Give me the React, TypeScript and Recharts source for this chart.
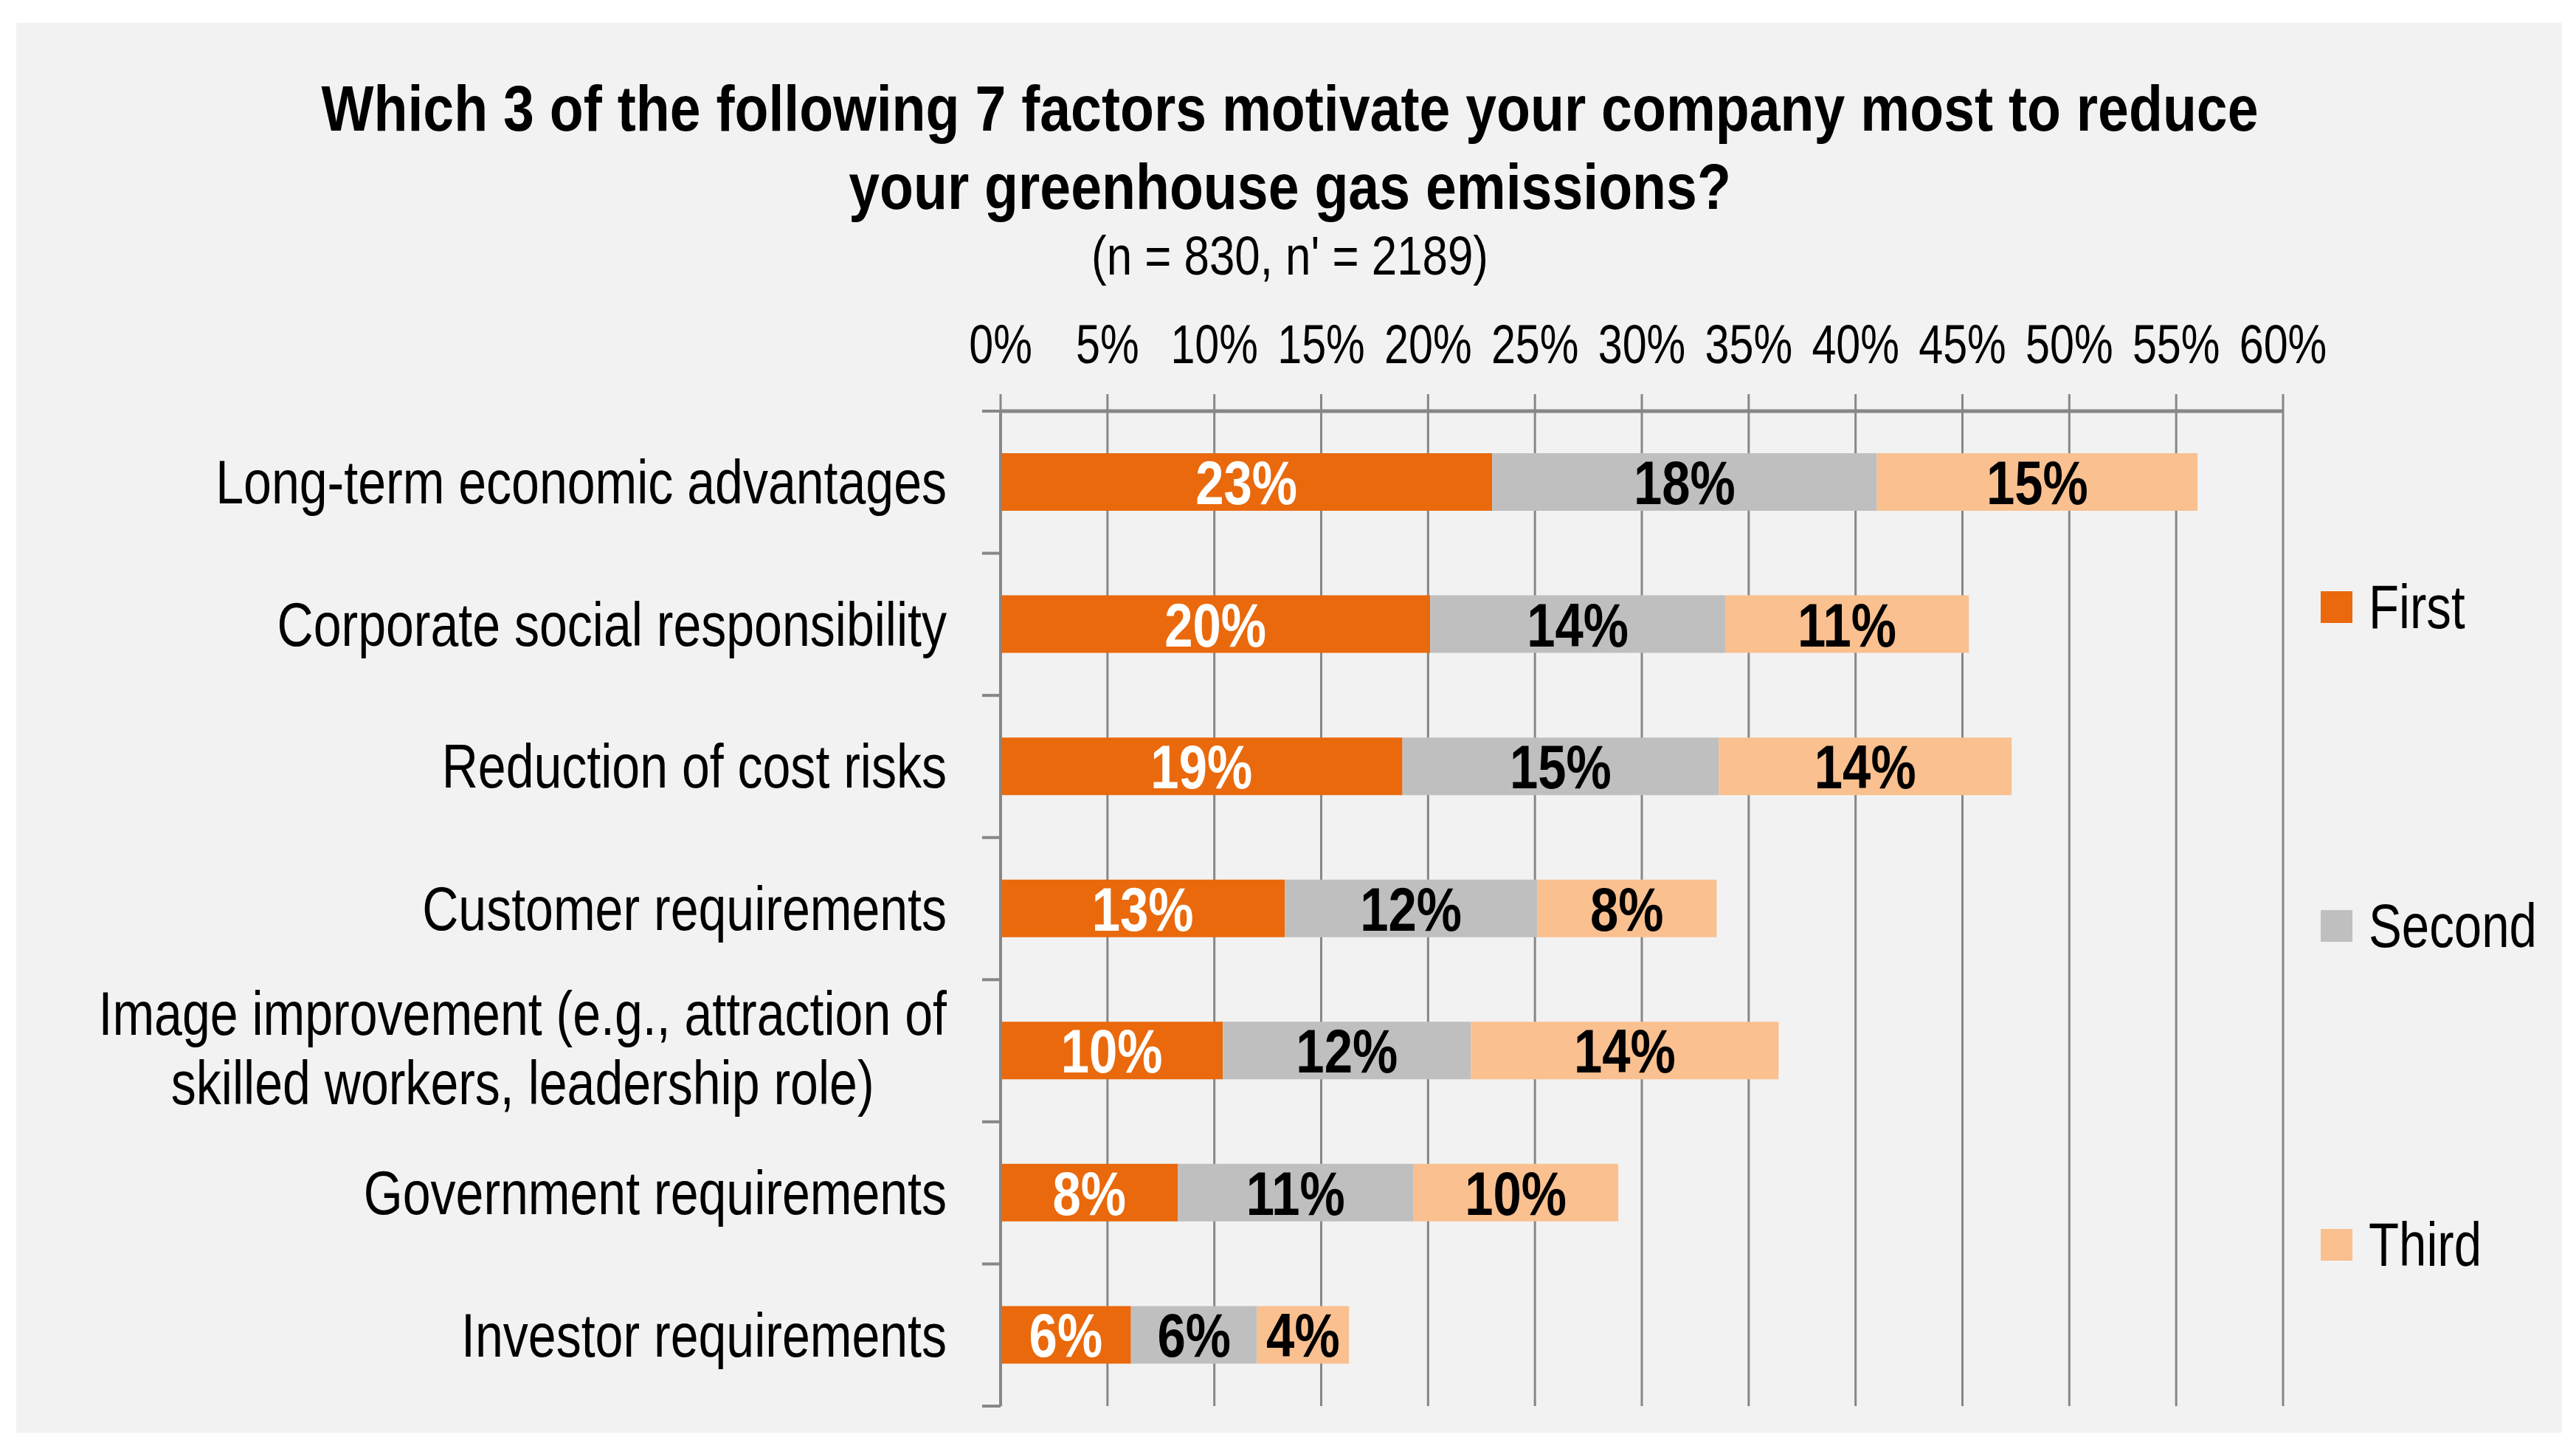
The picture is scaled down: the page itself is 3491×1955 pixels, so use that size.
import React from 'react';
import {
  BarChart,
  Bar,
  XAxis,
  YAxis,
  CartesianGrid,
  Legend,
  LabelList,
} from 'recharts';

const categories = [
  'Long-term economic advantages',
  'Corporate social responsibility',
  'Reduction of cost risks',
  'Customer requirements',
  'Image improvement (e.g., attraction of|skilled workers, leadership role)',
  'Government requirements',
  'Investor requirements',
];
const firstValues = [23.0, 20.1, 18.8, 13.3, 10.4, 8.3, 6.1];
const secondValues = [18.0, 13.8, 14.8, 11.8, 11.6, 11.0, 5.9];
const thirdValues = [15.0, 11.4, 13.7, 8.4, 14.4, 9.6, 4.3];
const xTicks = [0, 5, 10, 15, 20, 25, 30, 35, 40, 45, 50, 55, 60];

const titleLines = [
  'Which 3 of the following 7 factors motivate your company most to reduce',
  'your greenhouse gas emissions?',
];
const subtitle = "(n = 830, n' = 2189)";

const W = 3491;
const H = 1955;
// no narrow face installed, so the text is squeezed horizontally instead
const FONT = "'Liberation Sans', Arial, sans-serif";
const ORANGE = '#E9690C';
const GREY = '#BFBFBF';
const PEACH = '#FAC090';
const LINE = '#878787';

const MARGIN = { top: 457, right: 397, bottom: 50, left: 0 };
const X_AXIS_H = 100;
const Y_AXIS_W = 1356;
const PLOT_TOP = MARGIN.top + X_AXIS_H;
const PLOT_H = H - PLOT_TOP - MARGIN.bottom;
const BAND = PLOT_H / categories.length;
const LABEL_RIGHT = 1283;
const CAT_SX = 0.81;

const data = categories.map((name, i) => ({
  name,
  first: firstValues[i],
  second: secondValues[i],
  third: thirdValues[i],
}));

let measureCtx: CanvasRenderingContext2D | null = null;
function textWidth(s: string, size: number): number {
  if (!measureCtx) measureCtx = document.createElement('canvas').getContext('2d');
  if (!measureCtx) return s.length * size * 0.5;
  measureCtx.font = `${size}px ${FONT}`;
  return measureCtx.measureText(s).width;
}

function Squeezed({ x, y, sx, anchor = 'middle', size, bold = false, fill = '#000', children }: any) {
  return (
    <text
      transform={`translate(${x} ${y}) scale(${sx} 1)`}
      textAnchor={anchor}
      fontSize={size}
      fontWeight={bold ? 'bold' : 'normal'}
      fontFamily={FONT}
      fill={fill}
    >
      {children}
    </text>
  );
}

function XTick({ x, y, payload }: any) {
  return (
    <Squeezed x={x} y={y - 42} sx={0.79} size={75}>
      {`${payload.value}%`}
    </Squeezed>
  );
}

function YTick({ y, payload, index }: any) {
  const lines = String(payload.value).split('|');
  const axisX = Y_AXIS_W;
  const top = y - BAND / 2;
  const size = 84;
  const lineGap = 94;
  let labels;
  if (lines.length === 1) {
    labels = (
      <Squeezed x={LABEL_RIGHT} y={y + 29} sx={CAT_SX} anchor="end" size={size}>
        {lines[0]}
      </Squeezed>
    );
  } else {
    const wMax = Math.max(...lines.map((l) => textWidth(l, size))) * CAT_SX;
    const cx = LABEL_RIGHT - wMax / 2;
    const y0 = y + 29 - ((lines.length - 1) * lineGap) / 2 - 4;
    labels = lines.map((l, k) => (
      <Squeezed key={k} x={cx} y={y0 + k * lineGap} sx={CAT_SX} size={size}>
        {l}
      </Squeezed>
    ));
  }
  return (
    <g>
      {labels}
      <line x1={axisX - 25} x2={axisX} y1={top} y2={top} stroke={LINE} strokeWidth={4} />
      {index === categories.length - 1 && (
        <line x1={axisX - 25} x2={axisX} y1={top + BAND} y2={top + BAND} stroke={LINE} strokeWidth={4} />
      )}
    </g>
  );
}

function barLabel(fill: string) {
  return (props: any) => {
    const { x, y, width, height, value } = props;
    return (
      <Squeezed x={Number(x) + Number(width) / 2} y={Number(y) + Number(height) / 2 + 30} sx={0.82} size={84} bold fill={fill}>
        {`${Math.round(Number(value))}%`}
      </Squeezed>
    );
  };
}

function LegendContent({ payload }: any) {
  return (
    <div style={{ display: 'flex', flexDirection: 'column' }}>
      {(payload || []).map((p: any) => (
        <div key={p.value} style={{ height: 432, display: 'flex', alignItems: 'center' }}>
          <span style={{ width: 43, height: 43, background: p.color, marginRight: 22, flex: 'none' }} />
          <span
            style={{
              fontSize: 84,
              lineHeight: 1,
              fontFamily: FONT,
              color: '#000',
              display: 'inline-block',
              transform: 'scaleX(0.8)',
              transformOrigin: 'left center',
              whiteSpace: 'nowrap',
            }}
          >
            {p.value}
          </span>
        </div>
      ))}
    </div>
  );
}

export default function App() {
  return (
    <div style={{ position: 'absolute', left: 0, top: 0, width: W, height: H, background: '#FFFFFF' }}>
      <div
        style={{
          position: 'absolute',
          left: 22,
          top: 31,
          width: 3450,
          height: 1910,
          background: '#F2F2F2',
        }}
      />
      <div style={{ position: 'absolute', left: 0, top: 0 }}>
        <BarChart width={W} height={H} data={data} layout="vertical" margin={MARGIN} barSize={78}>
          <CartesianGrid horizontal={false} stroke={LINE} strokeWidth={3} />
          <XAxis
            type="number"
            orientation="top"
            domain={[0, 60]}
            ticks={xTicks}
            height={X_AXIS_H}
            tickSize={23}
            tickMargin={0}
            tick={<XTick />}
            tickLine={{ stroke: LINE, strokeWidth: 3 }}
            axisLine={{ stroke: LINE, strokeWidth: 5 }}
            interval={0}
          />
          <YAxis
            type="category"
            dataKey="name"
            width={Y_AXIS_W}
            tick={<YTick />}
            tickLine={false}
            axisLine={{ stroke: LINE, strokeWidth: 4 }}
            interval={0}
          />
          <Legend
            layout="vertical"
            align="center"
            verticalAlign="middle"
            content={<LegendContent />}
            wrapperStyle={{ position: 'absolute', left: 3145, top: 606, width: 330 }}
          />
          <Bar dataKey="first" name="First" stackId="a" fill={ORANGE} isAnimationActive={false}>
            <LabelList dataKey="first" content={barLabel('#FFFFFF')} />
          </Bar>
          <Bar dataKey="second" name="Second" stackId="a" fill={GREY} isAnimationActive={false}>
            <LabelList dataKey="second" content={barLabel('#000000')} />
          </Bar>
          <Bar dataKey="third" name="Third" stackId="a" fill={PEACH} isAnimationActive={false}>
            <LabelList dataKey="third" content={barLabel('#000000')} />
          </Bar>
        </BarChart>
      </div>
      <svg width={W} height={H} style={{ position: 'absolute', left: 0, top: 0, pointerEvents: 'none' }}>
        {titleLines.map((t, i) => (
          <Squeezed key={i} x={1748} y={177 + i * 106} sx={0.855} size={88} bold>
            {t}
          </Squeezed>
        ))}
        <Squeezed x={1748} y={372} sx={0.836} size={74}>
          {subtitle}
        </Squeezed>
      </svg>
    </div>
  );
}
